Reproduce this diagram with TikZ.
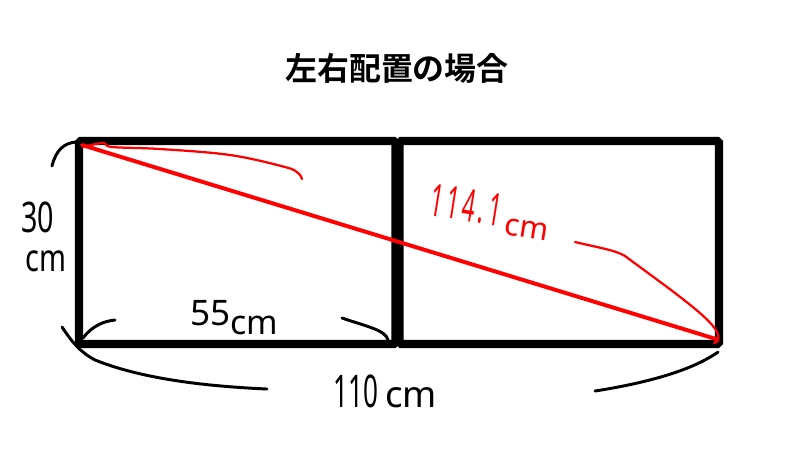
\documentclass[tikz,border=0pt]{standalone}
\usepackage{fontspec}
\usepackage{graphicx}
\setmainfont{Noto Sans}
\newfontfamily\cjk{Noto Sans CJK JP}[BoldFont={Noto Sans CJK JP Bold}]
\colorlet{framecol}{black}
\colorlet{lencol}{red}
\tikzstyle{frame}=[line width=5.8pt,framecol,rounded corners=1.2pt]
\tikzstyle{diag}=[line width=2.8pt,lencol,line cap=round]
\tikzstyle{redmark}=[line width=1.6pt,lencol,line cap=round,line join=round]
\tikzstyle{brace}=[line width=2.1pt,black,line cap=round]
\tikzstyle{hand}=[inner sep=0pt]
\newcommand{\narrow}[2]{\scalebox{#1}[1]{#2}}

\begin{document}
\begin{tikzpicture}[x=0.025cm,y=-0.025cm]
  \useasboundingbox (0,0) rectangle (800,450);

  % TITLE
  \node[hand] (title) at (397,68)
    {\fontsize{22.7}{27}\selectfont\cjk\bfseries 左右配置の場合};

  % BOXES
  \draw[frame] (79,141) rectangle (395.5,344);
  \draw[frame] (399.5,141) rectangle (719,344);
  \coordinate (A) at (82,145);
  \coordinate (B) at (716,339);

  % DIAGONAL
  \draw[diag] (A) -- (B);
  \draw[redmark] plot[smooth,tension=0.6] coordinates
    {(83,147) (103,143) (112,147) (160,149) (230,155) (285,167) (298,173) (302,179)};
  \draw[redmark] (575,242) .. controls (600,248) and (615,250) .. (625,256)
    .. controls (660,282) and (700,310) .. (713,326)
    .. controls (720,334) and (720,343) .. (714,343);
  \node[hand,lencol,rotate=-9,anchor=base west] (diaglen) at (428,215)
    {\fontsize{32}{32}\selectfont\narrow{0.5}{1}\hspace{2.5pt}\narrow{0.5}{1}\hspace{2.5pt}\narrow{0.5}{4}\hspace{2.5pt}\narrow{0.5}{.}\hspace{2.5pt}\narrow{0.5}{1}\hspace{4pt}\raisebox{-5pt}{\fontsize{22}{22}\selectfont cm}};

  % HEIGHT
  \draw[brace] (52,166) .. controls (56,150) and (64,143) .. (76,142);
  \node[hand,anchor=base west] (hnum) at (21,232)
    {\fontsize{30}{30}\selectfont\narrow{0.68}{30}};
  \node[hand,anchor=base west] (hunit) at (25,271)
    {\fontsize{27}{27}\selectfont\narrow{0.76}{cm}};

  % HALF WIDTH
  \draw[brace] (83,338) .. controls (92,326) and (104,321) .. (115,320);
  \draw[brace] (342,318) .. controls (365,326) and (386,330) .. (388,340);
  \node[hand,anchor=base west] (halfw) at (190,325)
    {\fontsize{25}{25}\selectfont 55\raisebox{-7pt}{\fontsize{24}{24}\selectfont cm}};

  % FULL WIDTH
  \draw[brace] (62,327) .. controls (72,342) and (80,352) .. (95,360)
    .. controls (140,378) and (200,386) .. (267,389);
  \draw[brace] (595,391) .. controls (640,384) and (690,372) .. (718,352);
  \node[hand,anchor=base west] (fullw) at (333,407)
    {\fontsize{32}{32}\selectfont\narrow{0.58}{110}\hspace{5pt}\fontsize{26}{26}\selectfont cm};

\end{tikzpicture}
\end{document}
